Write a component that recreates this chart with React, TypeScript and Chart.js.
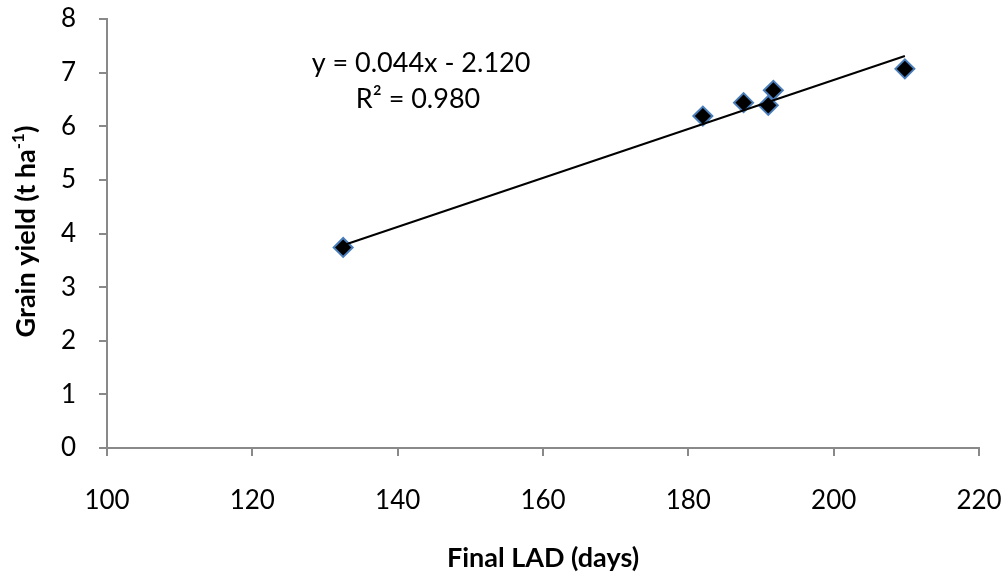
import React, { useEffect, useRef } from "react";
import { Chart, registerables } from "chart.js";

Chart.register(...registerables);

const FAMILY = "Lato, 'Open Sans', sans-serif";

// Data
const finalLAD = [132.5, 182.0, 187.6, 191.0, 191.7, 209.8];
const grainYield = [3.74, 6.19, 6.44, 6.39, 6.67, 7.07];
const trendLAD = [132.5, 209.8];
const trendYield = [3.78, 7.31];
const xTickValues = [100, 120, 140, 160, 180, 200, 220];
const yTickValues = [0, 1, 2, 3, 4, 5, 6, 7, 8];
const equationLines = ["y = 0.044x - 2.120", "R\u00B2 = 0.980"];
const xTitle = "Final LAD (days)";
const yTitleMain = "Grain yield (t ha";
const yTitleSup = "-1";
const yTitleEnd = ")";

const AXIS_COLOR = "#898989";

const textPlugin = {
  id: "customTexts",
  afterDraw(chart: any) {
    const ctx = chart.ctx as CanvasRenderingContext2D;
    const a = chart.chartArea;
    ctx.save();
    ctx.fillStyle = "#000";

    // equation
    ctx.font = `27px ${FAMILY}`;
    ctx.textAlign = "center";
    ctx.textBaseline = "middle";
    ctx.fillText(equationLines[0], a.left + 314, a.top + 44);
    ctx.fillText(equationLines[1], a.left + 311, a.top + 80);

    // x title
    ctx.font = `bold 27px ${FAMILY}`;
    ctx.fillText(xTitle, (a.left + a.right) / 2, 558);

    // y title (rotated, with superscript)
    ctx.translate(25, (a.top + a.bottom) / 2 - 2);
    ctx.rotate(-Math.PI / 2);
    ctx.textAlign = "left";
    ctx.textBaseline = "alphabetic";
    ctx.font = `bold 27px ${FAMILY}`;
    const w1 = ctx.measureText(yTitleMain).width;
    const w3 = ctx.measureText(yTitleEnd).width;
    ctx.font = `bold 17px ${FAMILY}`;
    const w2 = ctx.measureText(yTitleSup).width;
    const x0 = -(w1 + w2 + w3) / 2;
    ctx.font = `bold 27px ${FAMILY}`;
    ctx.fillText(yTitleMain, x0, 10);
    ctx.fillText(yTitleEnd, x0 + w1 + w2, 10);
    ctx.font = `bold 17px ${FAMILY}`;
    ctx.fillText(yTitleSup, x0 + w1, -1);
    ctx.restore();
  },
};

export default function App() {
  const ref = useRef<HTMLCanvasElement | null>(null);

  useEffect(() => {
    document.body.style.margin = "0";
    const canvas = ref.current;
    if (!canvas) return;
    const chart = new Chart(canvas, {
      type: "scatter",
      data: {
        datasets: [
          {
            type: "line",
            label: "Trend",
            data: trendLAD.map((x, i) => ({ x, y: trendYield[i] })),
            borderColor: "#000",
            borderWidth: 2,
            pointRadius: 0,
            fill: false,
            tension: 0,
          } as any,
          {
            label: "Grain yield",
            data: finalLAD.map((x, i) => ({ x, y: grainYield[i] })),
            pointStyle: "rectRot",
            pointRadius: 9.5,
            pointBackgroundColor: "#000",
            pointBorderColor: "#4A7EBB",
            pointBorderWidth: 2,
            showLine: false,
          },
        ],
      },
      options: {
        responsive: false,
        animation: false,
        layout: { autoPadding: false, padding: { top: 19, right: 29, left: 0, bottom: 0 } },
        plugins: {
          legend: { display: false },
          tooltip: { enabled: false },
        },
        scales: {
          x: {
            type: "linear",
            min: 100,
            max: 220,
            afterBuildTicks: (s: any) => {
              s.ticks = xTickValues.map((v) => ({ value: v }));
            },
            afterFit: (s: any) => {
              s.height = 125;
              s.paddingLeft = 0;
              s.paddingRight = 0;
              s.paddingTop = 0;
              s.paddingBottom = 0;
            },
            ticks: {
              font: { family: FAMILY, size: 26 },
              color: "#000",
              padding: 29,
              maxRotation: 0,
            },
            grid: {
              drawOnChartArea: false,
              drawTicks: true,
              tickLength: 8,
              color: AXIS_COLOR,
              lineWidth: 2,
            },
            border: { display: true, color: AXIS_COLOR, width: 2 },
          },
          y: {
            type: "linear",
            min: 0,
            max: 8,
            afterBuildTicks: (s: any) => {
              s.ticks = yTickValues.map((v) => ({ value: v }));
            },
            afterFit: (s: any) => {
              s.width = 107;
              s.paddingLeft = 0;
              s.paddingRight = 0;
              s.paddingTop = 0;
              s.paddingBottom = 0;
            },
            ticks: {
              font: { family: FAMILY, size: 26 },
              color: "#000",
              padding: 23,
            },
            grid: {
              drawOnChartArea: false,
              drawTicks: true,
              tickLength: 8,
              color: AXIS_COLOR,
              lineWidth: 2,
            },
            border: { display: true, color: AXIS_COLOR, width: 2 },
          },
        },
      },
      plugins: [textPlugin],
    });
    return () => chart.destroy();
  }, []);

  return (
    <div style={{ width: 1008, height: 573, background: "#fff" }}>
      <canvas ref={ref} width={1008} height={573} style={{ display: "block" }} />
    </div>
  );
}
